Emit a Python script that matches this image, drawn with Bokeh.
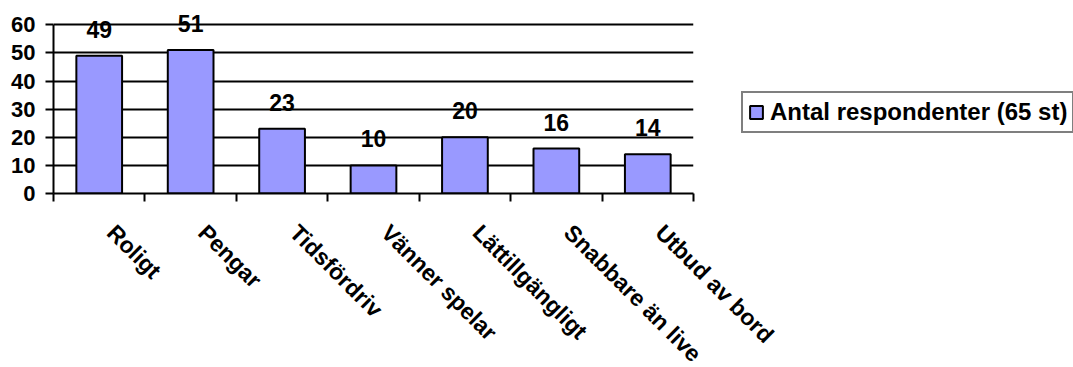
import math
from bokeh.plotting import figure
from bokeh.models import (ColumnDataSource, Range1d, LinearAxis,
                          FixedTicker, LabelSet, Legend, LegendItem)
from bokeh.core.properties import value
from bokeh.embed import file_html
from bokeh.resources import INLINE

categories = ["Roligt", "Pengar", "Tidsfördriv", "Vänner spelar", "Lättillgängligt",
              "Snabbare än live", "Utbud av bord"]
values = [49, 51, 23, 10, 20, 16, 14]
series_name = "Antal respondenter (65 st)"
y_ticks = [0, 10, 20, 30, 40, 50, 60]

FONT = "Liberation Sans"
BAR = "#9999FF"

n = len(categories)
centers = [i + 0.5 for i in range(n)]
label_pos = [c + 0.13 for c in centers]
edges = list(range(n + 1))
src = ColumnDataSource(dict(x=centers, cat=categories, val=values, lab=[str(v) for v in values]))

p = figure(frame_width=640, frame_height=180, output_backend="svg", toolbar_location=None,
           x_range=Range1d(0, n), y_range=Range1d(0, 64),
           x_axis_location=None, y_axis_location=None,
           min_border_left=53, min_border_right=0, min_border_top=13, min_border_bottom=0)
p.outline_line_color = None
p.background_fill_color = "white"
p.border_fill_color = "white"

# y axis
yax = LinearAxis(ticker=FixedTicker(ticks=y_ticks), bounds=(0, 60))
yax.axis_line_color = "black"
yax.axis_line_width = 2
yax.major_tick_line_color = "black"
yax.major_tick_line_width = 2
yax.major_tick_out = 8
yax.major_tick_in = 0
yax.minor_tick_line_color = None
yax.major_label_standoff = 10
yax.major_label_text_font = FONT
yax.major_label_text_font_style = "bold"
yax.major_label_text_font_size = "22px"
yax.major_label_text_color = "black"
p.add_layout(yax, "left")

# x axis: tick marks at category boundaries (minor ticks), labels at categories
xax = LinearAxis(ticker=FixedTicker(ticks=label_pos, minor_ticks=edges),
                 major_label_overrides={c: name for c, name in zip(label_pos, categories)})
xax.axis_line_color = "black"
xax.axis_line_width = 2
xax.major_tick_line_color = None
xax.major_tick_out = 0
xax.major_tick_in = 0
xax.minor_tick_line_color = "black"
xax.minor_tick_line_width = 2
xax.minor_tick_out = 8
xax.minor_tick_in = 0
xax.major_label_orientation = -math.pi / 4
xax.major_label_standoff = 27
xax.major_label_text_font = FONT
xax.major_label_text_font_style = "bold"
xax.major_label_text_font_size = "23px"
xax.major_label_text_color = "black"
p.add_layout(xax, "below")

p.xgrid.visible = False
p.ygrid.grid_line_color = "black"
p.ygrid.grid_line_width = 2
p.ygrid.ticker = FixedTicker(ticks=y_ticks)

bars = p.vbar(x="x", top="val", width=0.5, source=src, fill_color=BAR,
              line_color="black", line_width=2)

labels = LabelSet(x="x", y="val", text="lab", source=src, text_align="center",
                  text_baseline="alphabetic", y_offset=18, text_font=value(FONT),
                  text_font_style="bold", text_font_size="23px", text_color="black")
p.add_layout(labels)

legend = Legend(items=[LegendItem(label=series_name, renderers=[bars])],
                location=(48, 60))
legend.label_text_font = FONT
legend.label_text_font_style = "bold"
legend.label_text_font_size = "24px"
legend.label_text_color = "black"
legend.glyph_width = 16
legend.glyph_height = 16
legend.label_height = 20
legend.label_standoff = 6
legend.padding = 5
legend.margin = 0
legend.border_line_color = "black"
legend.border_line_width = 2
legend.background_fill_color = "white"
legend.background_fill_alpha = 1
p.add_layout(legend, "right")

open("out.html", "w").write(file_html(p, INLINE))
